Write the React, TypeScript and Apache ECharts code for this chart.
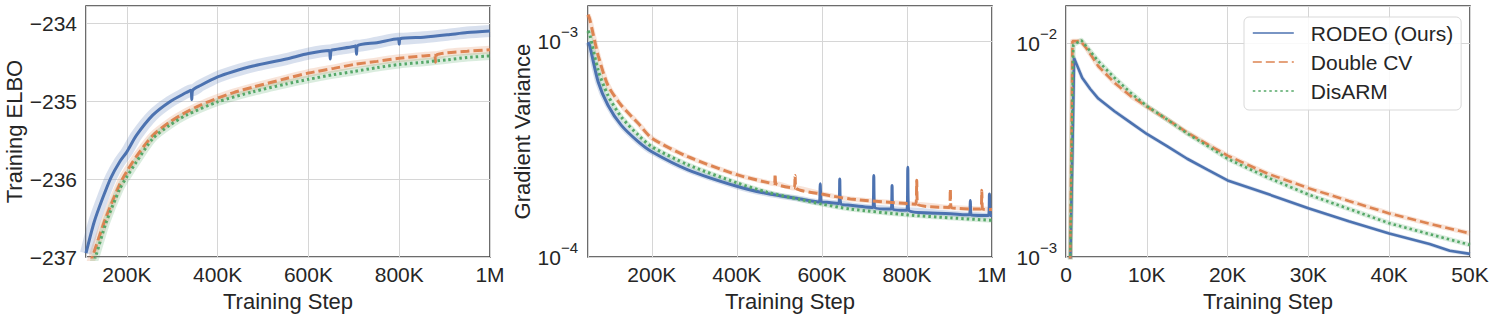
import React, { useEffect, useRef } from "react";
import * as echarts from "echarts";

const FONT = "'Liberation Sans', Arial, sans-serif";
const BLUE = "#4c72b0";
const ORANGE = "#dd8452";
const GREEN = "#55a868";
const TXT = "#262626";

const NAMES = ["RODEO (Ours)", "Double CV", "DisARM"];

// Panel 1: Training ELBO (steps in thousands)
const elboBlueX = [110, 128, 147, 165, 184, 200, 221, 257, 294, 331, 341, 343, 345, 362, 400, 435, 478, 551, 600, 646, 648, 650, 656, 700, 704, 706, 708, 751, 798, 800, 802, 854, 906, 950, 1000];
const elboBlueY = [-236.95, -236.55, -236.24, -235.98, -235.78, -235.65, -235.44, -235.18, -235.01, -234.89, -234.86, -234.98, -234.86, -234.8, -234.69, -234.62, -234.55, -234.46, -234.39, -234.35, -234.46, -234.35, -234.34, -234.3, -234.29, -234.4, -234.29, -234.25, -234.2, -234.27, -234.2, -234.18, -234.15, -234.12, -234.1];
const elboBlueSpikes = [343, 648, 706, 800];
const elboOrangeX = [118, 125, 154, 184, 200, 221, 257, 294, 331, 362, 400, 435, 478, 551, 600, 656, 700, 751, 800, 854, 878, 880, 882, 906, 950, 1000];
const elboOrangeY = [-237.1, -236.98, -236.49, -236.07, -235.9, -235.71, -235.44, -235.27, -235.14, -235.05, -234.96, -234.89, -234.82, -234.71, -234.64, -234.58, -234.53, -234.49, -234.45, -234.42, -234.41, -234.5, -234.41, -234.38, -234.36, -234.34];
const elboOrangeSpikes = [880];
const elboGreenX = [125, 132, 154, 184, 200, 221, 257, 294, 331, 400, 478, 551, 600, 656, 700, 751, 800, 854, 906, 950, 1000];
const elboGreenY = [-237.1, -236.98, -236.56, -236.13, -235.97, -235.78, -235.48, -235.31, -235.18, -235.01, -234.88, -234.78, -234.72, -234.66, -234.62, -234.57, -234.53, -234.5, -234.47, -234.44, -234.42];

// Panel 2: Gradient Variance (steps in thousands)
const gvBlueX = [50, 54, 74, 97, 128, 168, 200, 285, 400, 471, 549, 594, 596, 598, 600, 640, 642, 644, 667, 720, 722, 724, 763, 765, 767, 800, 802, 804, 902, 947, 949, 951, 992, 994, 996, 1000];
const gvBlueY = [9.9e-4, 9.55e-4, 6.48e-4, 5.06e-4, 4.09e-4, 3.43e-4, 3.08e-4, 2.54e-4, 2.13e-4, 1.97e-4, 1.86e-4, 1.8e-4, 2.19e-4, 1.8e-4, 1.8e-4, 1.77e-4, 2.3e-4, 1.77e-4, 1.74e-4, 1.7e-4, 2.39e-4, 1.7e-4, 1.67e-4, 2.15e-4, 1.67e-4, 1.65e-4, 2.61e-4, 1.65e-4, 1.59e-4, 1.57e-4, 1.83e-4, 1.57e-4, 1.56e-4, 1.96e-4, 1.56e-4, 1.56e-4];
const gvBlueSpikes = [596, 642, 722, 765, 802, 949, 994];
const gvOrangeX = [50, 54, 74, 97, 128, 168, 200, 285, 400, 471, 488, 490, 492, 535, 537, 539, 600, 667, 800, 821, 823, 825, 900, 902, 904, 974, 976, 978, 1000];
const gvOrangeY = [1.33e-3, 1.27e-3, 8.59e-4, 6.25e-4, 5.06e-4, 4.17e-4, 3.56e-4, 2.92e-4, 2.41e-4, 2.22e-4, 2.19e-4, 2.43e-4, 2.19e-4, 2.09e-4, 2.39e-4, 2.09e-4, 1.96e-4, 1.86e-4, 1.77e-4, 1.76e-4, 2.27e-4, 1.76e-4, 1.7e-4, 2.07e-4, 1.7e-4, 1.67e-4, 2.04e-4, 1.67e-4, 1.66e-4];
const gvOrangeSpikes = [490, 537, 823, 902, 976];
const gvGreenX = [50, 54, 74, 97, 128, 168, 200, 285, 400, 471, 549, 600, 667, 800, 902, 1000];
const gvGreenY = [1.12e-3, 1.08e-3, 7.33e-4, 5.62e-4, 4.47e-4, 3.68e-4, 3.25e-4, 2.68e-4, 2.21e-4, 2.0e-4, 1.85e-4, 1.76e-4, 1.67e-4, 1.57e-4, 1.52e-4, 1.48e-4];

// Panel 3: early training gradient variance (steps in thousands)
const earlyBlueX = [0.5, 1, 2, 3, 4, 6, 8, 10, 12.5, 15, 17.5, 20, 22.5, 25, 30, 35, 40, 45, 47.5, 50];
const earlyBlueY = [8e-4, 8.5e-3, 6.88e-3, 6.1e-3, 5.5e-3, 4.8e-3, 4.25e-3, 3.76e-3, 3.3e-3, 2.88e-3, 2.56e-3, 2.28e-3, 2.12e-3, 1.97e-3, 1.69e-3, 1.47e-3, 1.29e-3, 1.15e-3, 1.07e-3, 1.035e-3];
const earlyOrangeX = [0.5, 0.8, 1.8, 2.5, 4, 6, 8, 10, 12.5, 15, 17.5, 20, 22.5, 25, 30, 35, 40, 45, 50];
const earlyOrangeY = [8e-4, 1.02e-2, 1.02e-2, 9.48e-3, 7.79e-3, 6.52e-3, 5.65e-3, 5.05e-3, 4.4e-3, 3.82e-3, 3.37e-3, 2.98e-3, 2.7e-3, 2.45e-3, 2.1e-3, 1.83e-3, 1.6e-3, 1.43e-3, 1.29e-3];
const earlyGreenX = [0.5, 0.9, 1.9, 4, 6, 8, 10, 12.5, 15, 17.5, 20, 22.5, 25, 30, 35, 40, 45, 50];
const earlyGreenY = [8e-4, 9.8e-3, 1.03e-2, 8.22e-3, 6.88e-3, 5.86e-3, 5.08e-3, 4.4e-3, 3.78e-3, 3.31e-3, 2.88e-3, 2.6e-3, 2.35e-3, 1.96e-3, 1.68e-3, 1.44e-3, 1.28e-3, 1.14e-3];

const zip = (xs: number[], ys: number[]) => xs.map((x, i) => [x, ys[i]]);
const noSpikes = (d: number[][], spikes: number[]) => d.filter((p) => !spikes.includes(p[0]));

const stepLabel = (v: number) => (v === 0 ? "0" : v >= 1000 ? v / 1000 + "M" : v + "K");
const powLabel = (v: number) => {
  const e = Math.round(Math.log10(v));
  return "{b|10}{s|" + (e < 0 ? "\u2212" : "") + Math.abs(e) + "}";
};

const GRIDS = [
  { left: 86, top: 6, width: 404, height: 253 },
  { left: 588, top: 6, width: 404, height: 253 },
  { left: 1066, top: 6, width: 404, height: 253 },
];

export default function App() {
  const ref = useRef<HTMLDivElement>(null);
  useEffect(() => {
    if (!ref.current) return;
    const chart = echarts.init(ref.current, null, { renderer: "svg" });

    const splitLine = { show: true, lineStyle: { color: "#d6d6d6", width: 1 } };
    const labelBase = { color: TXT, fontSize: 21, fontFamily: FONT };
    const nameStyle = { color: TXT, fontSize: 22, fontFamily: FONT };
    const rich = {
      b: { fontSize: 21, fontFamily: FONT, color: TXT },
      s: { fontSize: 15, fontFamily: FONT, color: TXT, padding: [0, 0, 20, 0] },
    };

    const xAxisBase = (gi: number, min: number, max: number, extra: any = {}) => ({
      type: "value",
      gridIndex: gi,
      min,
      max,
      name: "Training Step",
      nameLocation: "middle",
      nameGap: 30,
      nameTextStyle: nameStyle,
      axisLine: { show: false },
      axisTick: { show: false },
      splitLine,
      axisLabel: { ...labelBase, margin: 7, formatter: stepLabel, showMinLabel: extra.showMin ?? true },
      ...(extra.interval ? { interval: extra.interval } : {}),
    });

    const line = (name: string, color: string, type: any, xi: number, data: number[][], width: number, smooth: number) => ({
      type: "line",
      name,
      xAxisIndex: xi,
      yAxisIndex: xi,
      data,
      symbol: "none",
      showSymbol: false,
      clip: true,
      smooth,
      z: 3,
      lineStyle: { color, width, type, cap: "butt" },
      itemStyle: { color },
    });
    const band = (color: string, width: number, xi: number, data: number[][], smooth: number) => ({
      type: "line",
      name: "band",
      xAxisIndex: xi,
      yAxisIndex: xi,
      data,
      symbol: "none",
      showSymbol: false,
      clip: true,
      silent: true,
      smooth,
      z: 2,
      lineStyle: { color, width, opacity: 0.22, join: "round", cap: "butt" },
    });

    const DASH = [9, 4];
    const DOT = [2.5, 3];

    const eb = zip(elboBlueX, elboBlueY);
    const eo = zip(elboOrangeX, elboOrangeY);
    const eg = zip(elboGreenX, elboGreenY);
    const gb = zip(gvBlueX, gvBlueY);
    const go = zip(gvOrangeX, gvOrangeY);
    const gg = zip(gvGreenX, gvGreenY);
    const pb = zip(earlyBlueX, earlyBlueY);
    const po = zip(earlyOrangeX, earlyOrangeY);
    const pg = zip(earlyGreenX, earlyGreenY);

    const S = 0.25;
    const series: any[] = [
      band(BLUE, 12, 0, noSpikes(eb, elboBlueSpikes), S),
      band(ORANGE, 8, 0, noSpikes(eo, elboOrangeSpikes), S),
      band(GREEN, 8, 0, eg, S),
      band(BLUE, 6, 1, noSpikes(gb, gvBlueSpikes), S),
      band(ORANGE, 5, 1, noSpikes(go, gvOrangeSpikes), S),
      band(GREEN, 5, 1, gg, S),
      band(BLUE, 4, 2, pb, 0),
      band(ORANGE, 5, 2, po, 0),
      band(GREEN, 5, 2, pg, 0),
      line(NAMES[0], BLUE, "solid", 0, eb, 3, S),
      line(NAMES[1], ORANGE, DASH, 0, eo, 3, S),
      line(NAMES[2], GREEN, DOT, 0, eg, 3, S),
      line(NAMES[0], BLUE, "solid", 1, gb, 3, S),
      line(NAMES[1], ORANGE, DASH, 1, go, 3, S),
      line(NAMES[2], GREEN, DOT, 1, gg, 3, S),
      line(NAMES[0], BLUE, "solid", 2, pb, 2.6, 0),
      line(NAMES[1], ORANGE, DASH, 2, po, 2.6, 0),
      line(NAMES[2], GREEN, DOT, 2, pg, 2.6, 0),
    ];

    chart.setOption({
      animation: false,
      backgroundColor: "#ffffff",
      textStyle: { fontFamily: FONT },
      grid: GRIDS.map((g) => ({ ...g, show: true, borderColor: "#3d3d3d", borderWidth: 1.5, backgroundColor: "transparent" })),
      xAxis: [
        xAxisBase(0, 110, 1000, { showMin: false }),
        xAxisBase(1, 50, 1000, { showMin: false }),
        xAxisBase(2, 0, 50, { interval: 10 }),
      ],
      yAxis: [
        {
          type: "value",
          gridIndex: 0,
          min: -237,
          max: -233.78,
          interval: 1,
          name: "Training ELBO",
          nameLocation: "middle",
          nameGap: 60,
          nameTextStyle: nameStyle,
          axisLine: { show: false },
          axisTick: { show: false },
          splitLine,
          axisLabel: {
            ...labelBase,
            margin: 9,
            showMaxLabel: false,
            formatter: (v: number) => (v < 0 ? "\u2212" + Math.abs(v) : String(v)),
          },
        },
        {
          type: "log",
          logBase: 10,
          gridIndex: 1,
          min: 1e-4,
          max: 1.459e-3,
          name: "Gradient Variance",
          nameLocation: "middle",
          nameGap: 52,
          nameTextStyle: nameStyle,
          axisLine: { show: false },
          axisTick: { show: false },
          splitLine,
          axisLabel: { ...labelBase, margin: 10, showMaxLabel: false, formatter: powLabel, rich },
        },
        {
          type: "log",
          logBase: 10,
          gridIndex: 2,
          min: 1e-3,
          max: 1.489e-2,
          axisLine: { show: false },
          axisTick: { show: false },
          splitLine,
          axisLabel: { ...labelBase, margin: 9, showMaxLabel: false, formatter: powLabel, rich },
        },
      ],
      legend: {
        data: NAMES,
        orient: "vertical",
        left: 1244,
        top: 17,
        padding: [5, 8, 8, 8],
        itemGap: 7,
        itemWidth: 41,
        itemHeight: 14,
        backgroundColor: "rgba(255,255,255,0.85)",
        borderColor: "#d9d9d9",
        borderWidth: 1,
        borderRadius: 5,
        itemStyle: { opacity: 0 },
        lineStyle: { width: 1.6 },
        textStyle: { color: TXT, fontSize: 21, fontFamily: FONT, lineHeight: 22, padding: [0, 0, 0, 12] },
      },
      series,
    });
    return () => chart.dispose();
  }, []);

  return (
    <div
      ref={ref}
      style={{ position: "fixed", left: 0, top: 0, width: 1495, height: 317, background: "#fff" }}
    />
  );
}
